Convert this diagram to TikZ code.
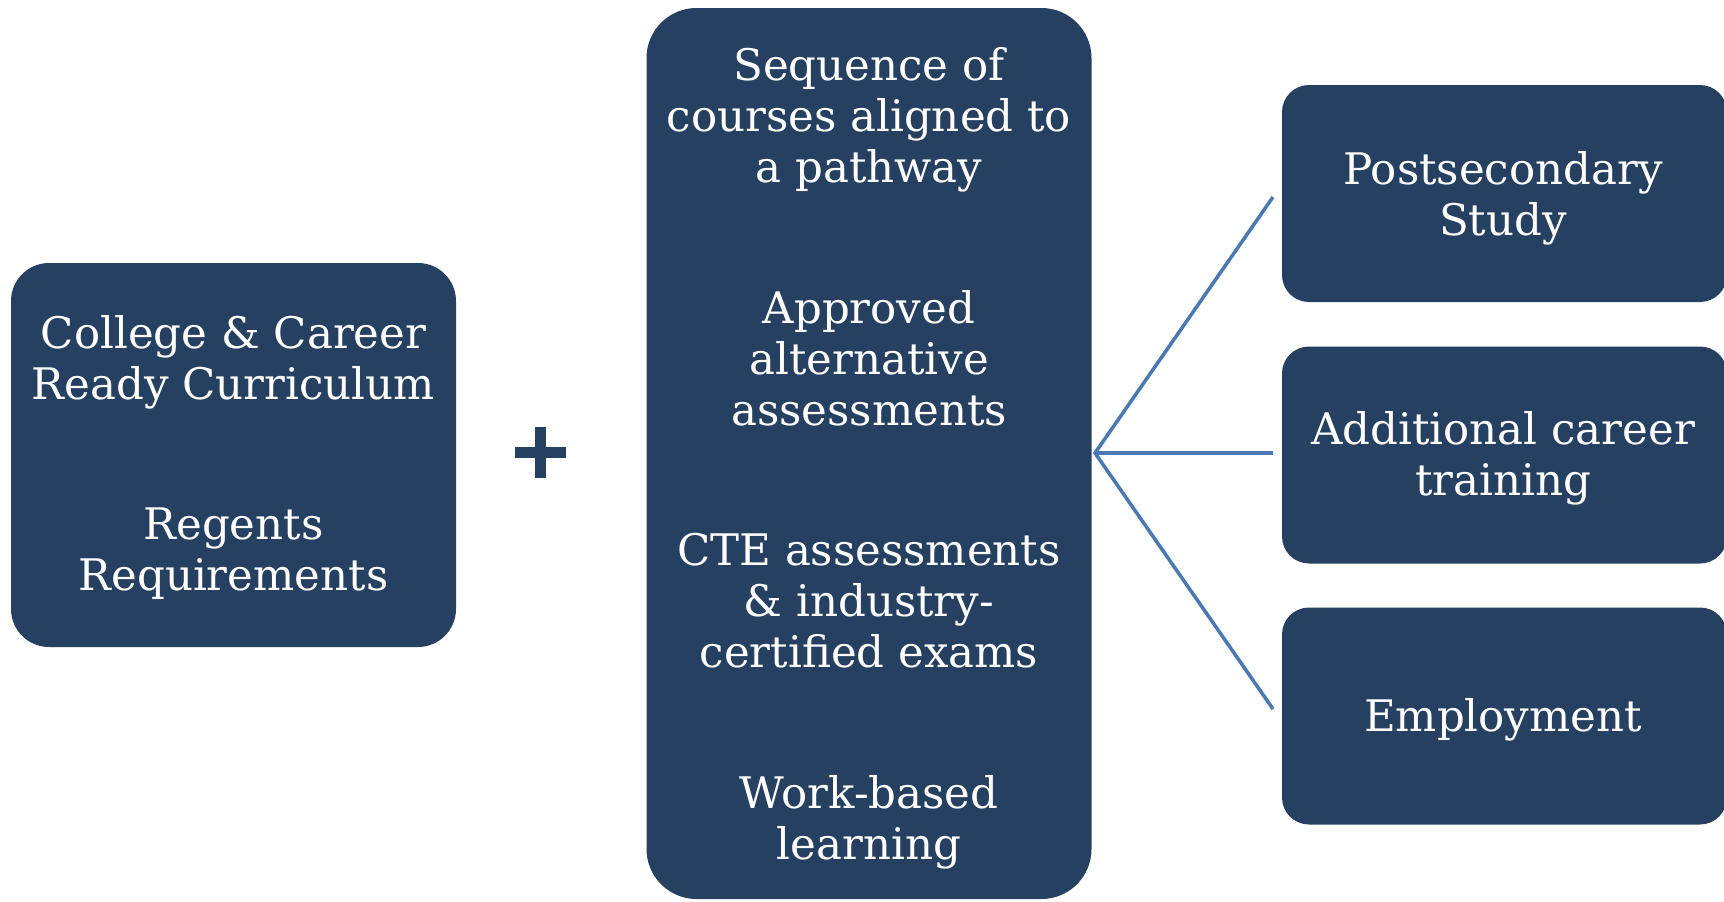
\documentclass[tikz,border=0pt]{standalone}
\usepackage{fontspec}
\setmainfont{DejaVu Serif}
\definecolor{boxblue}{RGB}{38,64,97}
\definecolor{linkblue}{RGB}{74,120,178}
\begin{document}
\begin{tikzpicture}[x=1pt,y=-1pt,
  card/.style={fill=boxblue, draw=none, inner sep=0pt},
  txt/.style={text=white, align=center, font=\fontsize{43.5}{51}\selectfont, inner sep=0pt},
  link/.style={draw=linkblue, line width=3.5pt, line join=miter}]
\useasboundingbox (0,0) rectangle (1724,902);
% boxes
\node[card, rounded corners=38pt, minimum width=445pt, minimum height=384pt] (left) at (233.5,455) {};
\node[card, rounded corners=50pt, minimum width=445pt, minimum height=891pt] (mid) at (869,453.5) {};
\node[card, rounded corners=27pt, minimum width=445pt, minimum height=217pt] (r1) at (1504.5,193.5) {};
\node[card, rounded corners=27pt, minimum width=445pt, minimum height=217pt] (r2) at (1504.5,455) {};
\node[card, rounded corners=27pt, minimum width=445pt, minimum height=217pt] (r3) at (1504.5,716) {};
% texts
\node[txt] (t1) at (233.5,362) {College \& Career\\Ready Curriculum};
\node[txt] (t2) at (233.5,554) {Regents\\Requirements};
\node[txt] (m1) at (869,120) {Sequence of\\courses aligned to\\a pathway};
\node[txt] (m2) at (869,358.5) {Approved\\alternative\\assessments};
\node[txt] (m3) at (869,600.5) {CTE assessments\\\& industry-\\certified exams};
\node[txt] (m4) at (869,822) {Work-based\\learning};
\node[txt] (o1) at (1503,198) {Postsecondary\\Study};
\node[txt] (o2) at (1503,458) {Additional career\\training};
\node[txt] (o3) at (1503,720) {Employment};
% plus sign
\fill[boxblue] (515,446.5) rectangle (566,457.5);
\fill[boxblue] (535,426.7) rectangle (546,477.7);
% connectors
\coordinate (hub) at (1095,453);
\coordinate (e1) at (1273,197);
\coordinate (e2) at (1273,453);
\coordinate (e3) at (1273,709);
\draw[link] (e1) -- (hub) -- (e3);
\draw[link] (hub) -- (e2);
\end{tikzpicture}
\end{document}
